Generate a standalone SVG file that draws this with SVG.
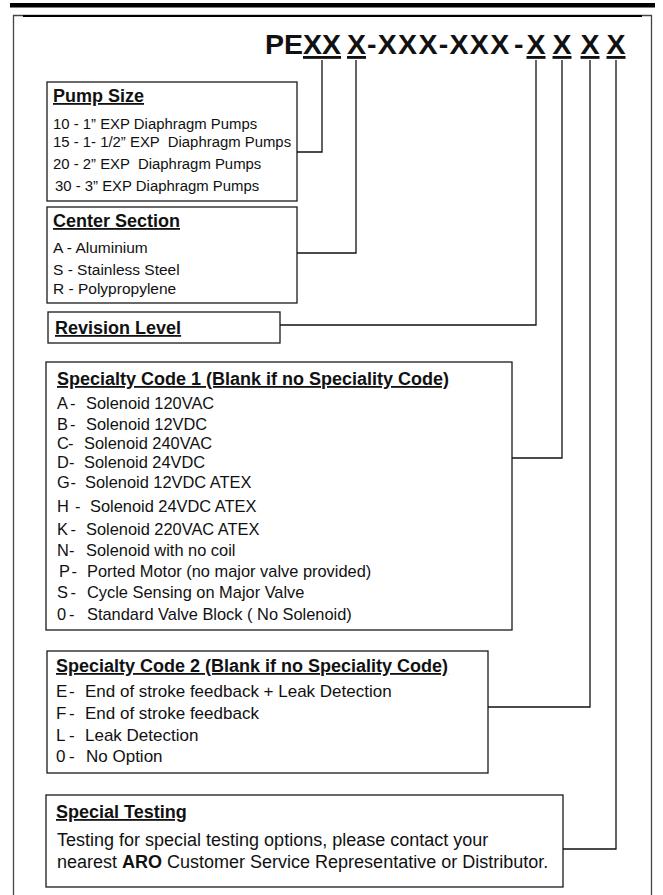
<svg xmlns="http://www.w3.org/2000/svg" width="663" height="895" viewBox="0 0 663 895">
<style>
text{font-family:"Liberation Sans",Arial,sans-serif;fill:#111;white-space:pre}
.h{font-weight:bold;font-size:18px;text-decoration:underline}
.t{font-weight:bold;font-size:28.5px}
.u{text-decoration:underline}
.ps{font-size:14.9px}
.cs{font-size:15.5px}
.it{font-size:16.4px}
.it2{font-size:17px}
.bd{font-size:18px}
.box{fill:#fff;stroke:#1a1a1a;stroke-width:1.3}
.con{fill:none;stroke:#111;stroke-width:1.3}
</style>
<rect width="663" height="895" fill="#fff"/>
<g id="frame">
<rect x="10" y="3" width="645" height="4.5" fill="#000"/>
<path d="M13.5,900 V15.5 H651.5 V900" fill="none" stroke="#444" stroke-width="1.3"/>
<line x1="23" y1="16" x2="642" y2="16" stroke="#000" stroke-width="2.2"/>
</g>
<g id="title">
<text class="t" y="54"><tspan x="265">PE</tspan><tspan x="303" class="u">XX</tspan><tspan x="347" class="u">X</tspan><tspan x="367" letter-spacing="1.3">-XXX-XXX</tspan><tspan x="514">-</tspan><tspan x="526.5" class="u">X</tspan><tspan x="552.5" class="u">X</tspan><tspan x="580.5" class="u">X</tspan><tspan x="606.5" class="u">X</tspan></text>
</g>
<g id="connectors">
<path class="con" d="M322,60 V152 H297"/>
<path class="con" d="M356,60 V253 H297"/>
<path class="con" d="M536,60 V325 H280"/>
<path class="con" d="M562,60 V458 H512"/>
<path class="con" d="M590,60 V707 H488"/>
<path class="con" d="M616,60 V849 H563"/>
</g>
<g id="pump-size">
<rect class="box" x="47" y="82" width="250" height="119"/>
<text class="h" x="53" y="102">Pump Size</text>
<text class="ps" x="53" y="129">10 - 1” EXP Diaphragm Pumps</text>
<text class="ps" x="53" y="147">15 - 1- 1/2” EXP  Diaphragm Pumps</text>
<text class="ps" x="53" y="169">20 - 2” EXP  Diaphragm Pumps</text>
<text class="ps" x="55" y="191">30 - 3” EXP Diaphragm Pumps</text>
</g>
<g id="center-section">
<rect class="box" x="47" y="207" width="250" height="96"/>
<text class="h" x="53" y="227">Center Section</text>
<text class="cs" x="53" y="253">A - Aluminium</text>
<text class="cs" x="53" y="275">S - Stainless Steel</text>
<text class="cs" x="53" y="294">R - Polypropylene</text>
</g>
<g id="revision-level">
<rect class="box" x="48" y="312" width="232" height="31"/>
<text class="h" x="55" y="334">Revision Level</text>
</g>
<g id="specialty-code-1">
<rect class="box" x="46" y="362" width="466" height="268"/>
<text class="h" x="57" y="385">Specialty Code 1 (Blank if no Speciality Code)</text>
<text class="it" y="409"><tspan x="57">A</tspan><tspan x="70">-</tspan><tspan x="86">Solenoid 120VAC</tspan></text>
<text class="it" y="430"><tspan x="57">B</tspan><tspan x="70">-</tspan><tspan x="86">Solenoid 12VDC</tspan></text>
<text class="it" y="449"><tspan x="57">C</tspan><tspan x="68">-</tspan><tspan x="84">Solenoid 240VAC</tspan></text>
<text class="it" y="468"><tspan x="57">D</tspan><tspan x="69">-</tspan><tspan x="84">Solenoid 24VDC</tspan></text>
<text class="it" y="488"><tspan x="57">G</tspan><tspan x="70.5">-</tspan><tspan x="85">Solenoid 12VDC ATEX</tspan></text>
<text class="it" y="512"><tspan x="57">H</tspan><tspan x="75">-</tspan><tspan x="90">Solenoid 24VDC ATEX</tspan></text>
<text class="it" y="535"><tspan x="57">K</tspan><tspan x="70.5">-</tspan><tspan x="86">Solenoid 220VAC ATEX</tspan></text>
<text class="it" y="556"><tspan x="57">N</tspan><tspan x="69">-</tspan><tspan x="86">Solenoid with no coil</tspan></text>
<text class="it" y="577"><tspan x="59">P</tspan><tspan x="71.5">-</tspan><tspan x="87">Ported Motor (no major valve provided)</tspan></text>
<text class="it" y="598"><tspan x="57">S</tspan><tspan x="70.5">-</tspan><tspan x="87">Cycle Sensing on Major Valve</tspan></text>
<text class="it" y="620"><tspan x="57">0</tspan><tspan x="69">-</tspan><tspan x="87">Standard Valve Block ( No Solenoid)</tspan></text>
</g>
<g id="specialty-code-2">
<rect class="box" x="47" y="651" width="441" height="122"/>
<text class="h" x="56" y="672">Specialty Code 2 (Blank if no Speciality Code)</text>
<text class="it2" y="697"><tspan x="56">E</tspan><tspan x="69">-</tspan><tspan x="85">End of stroke feedback + Leak Detection</tspan></text>
<text class="it2" y="719"><tspan x="56">F</tspan><tspan x="69">-</tspan><tspan x="85">End of stroke feedback</tspan></text>
<text class="it2" y="741"><tspan x="56">L</tspan><tspan x="69">-</tspan><tspan x="85">Leak Detection</tspan></text>
<text class="it2" y="762"><tspan x="56">0</tspan><tspan x="69">-</tspan><tspan x="86">No Option</tspan></text>
</g>
<g id="special-testing">
<rect class="box" x="46" y="795" width="517" height="92"/>
<text class="h" x="56" y="818">Special Testing</text>
<text class="bd" x="57" y="846">Testing for special testing options, please contact your</text>
<text class="bd" x="57" y="868">nearest <tspan font-weight="bold">ARO</tspan> Customer Service Representative or Distributor.</text>
</g>
</svg>
